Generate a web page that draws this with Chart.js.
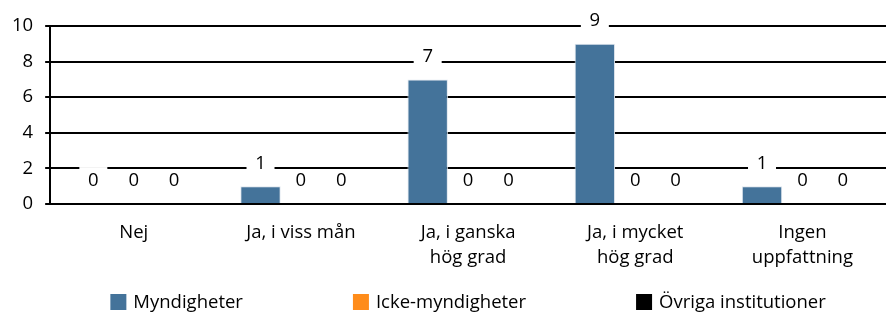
<!DOCTYPE html>
<html>
<head>
<meta charset="utf-8">
<script src="https://cdn.jsdelivr.net/npm/chart.js@4.4.0/dist/chart.umd.min.js"></script>
<style>
  html, body { margin: 0; padding: 0; background: #fff; }
  #wrap { width: 886px; height: 314px; }
</style>
</head>
<body>
<div id="wrap"><canvas id="myChart"></canvas></div>
<script>
// Kategorier och värden
var categories = [["Nej"], ["Ja, i viss mån"], ["Ja, i ganska", "hög grad"], ["Ja, i mycket", "hög grad"], ["Ingen", "uppfattning"]];
var seriesNames = ["Myndigheter", "Icke-myndigheter", "Övriga institutioner"];
var myndigheter = [0, 1, 7, 9, 1];
var ickeMyndigheter = [0, 0, 0, 0, 0];
var ovriga = [0, 0, 0, 0, 0];
var yTicks = [0, 2, 4, 6, 8, 10];

var colors = ["#44739a", "#ff8c1a", "#000000"];
var fontName = "'Open Sans', sans-serif";
var fontSize = 18.5;

// Värdeetiketter ovanför staplarna
var valueLabels = {
    id: "valueLabels",
    afterDatasetsDraw: function (chart) {
        var ctx = chart.ctx;
        ctx.save();
        ctx.font = fontSize + "px " + fontName;
        ctx.textAlign = "center";
        ctx.textBaseline = "middle";
        chart.data.datasets.forEach(function (ds, i) {
            var meta = chart.getDatasetMeta(i);
            meta.data.forEach(function (bar, j) {
                var x = bar.x;
                var y = bar.y - 24;
                if (i === 0) {
                    ctx.fillStyle = "#fff";
                    ctx.fillRect(x - 14, y - 13, 28, 26);
                }
                ctx.fillStyle = "#000";
                ctx.fillText(String(ds.data[j]), x, y + 1);
            });
        });
        ctx.restore();
    }
};

// Förklaring längst ned, centrerad under diagramytan
var bottomLegend = {
    id: "bottomLegend",
    afterDraw: function (chart) {
        var ctx = chart.ctx;
        ctx.save();
        ctx.font = fontSize + "px " + fontName;
        ctx.textBaseline = "middle";
        var box = 16, gap = 7, space = 110;
        var widths = seriesNames.map(function (n) { return box + gap + ctx.measureText(n).width; });
        var total = widths.reduce(function (a, b) { return a + b; }, 0) + space * (widths.length - 1);
        var area = chart.chartArea;
        var x = (area.left + area.right) / 2 - total / 2;
        var y = chart.height - 12;
        seriesNames.forEach(function (n, i) {
            ctx.fillStyle = colors[i];
            ctx.fillRect(x, y - box / 2, box, box);
            ctx.fillStyle = "#000";
            ctx.fillText(n, x + box + gap, y + 1);
            x += widths[i] + space;
        });
        ctx.restore();
    }
};

var chartContext = document.getElementById("myChart").getContext("2d");
var myChart = new Chart(chartContext, {
    type: "bar",
    data: {
        labels: categories,
        datasets: [
            { label: seriesNames[0], data: myndigheter, backgroundColor: colors[0], borderColor: "#dfe6ee", borderWidth: 1 },
            { label: seriesNames[1], data: ickeMyndigheter, backgroundColor: colors[1] },
            { label: seriesNames[2], data: ovriga, backgroundColor: colors[2] }
        ]
    },
    options: {
        responsive: true,
        maintainAspectRatio: false,
        animation: false,
        layout: { padding: { top: 26, right: -12, bottom: 36, left: 0 } },
        plugins: {
            legend: { display: false },
            tooltip: { enabled: false }
        },
        datasets: {
            bar: { barPercentage: 1, categoryPercentage: 0.725 }
        },
        scales: {
            x: {
                grid: { display: false },
                border: { color: "#000", width: 2 },
                ticks: {
                    color: "#000",
                    font: { family: fontName, size: fontSize, lineHeight: 1.35 },
                    maxRotation: 0,
                    padding: 8
                }
            },
            y: {
                min: 0,
                max: 10,
                afterBuildTicks: function (axis) {
                    axis.ticks = yTicks.map(function (v) { return { value: v }; });
                },
                grid: { color: "#000", lineWidth: 2, tickLength: 5 },
                border: { color: "#000", width: 2 },
                ticks: {
                    color: "#000",
                    font: { family: fontName, size: fontSize },
                    padding: 12
                }
            }
        }
    },
    plugins: [valueLabels, bottomLegend]
});
</script>
</body>
</html>
